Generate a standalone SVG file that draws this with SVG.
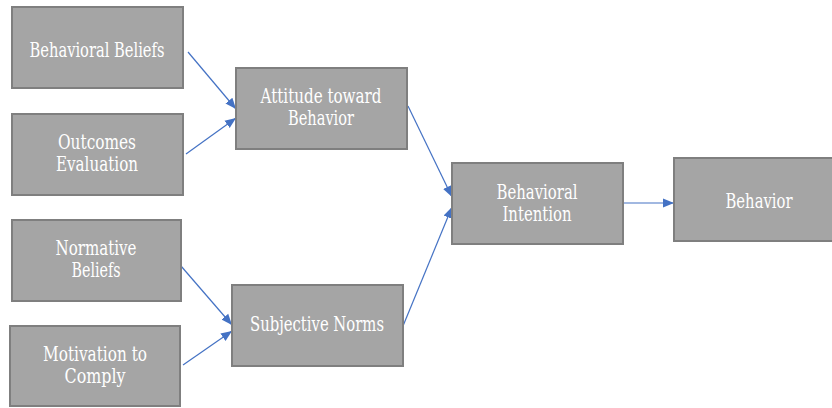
<svg xmlns="http://www.w3.org/2000/svg" width="832" height="408" viewBox="0 0 832 408">
  <style>
    .box { fill: #a5a5a5; stroke: #7f7f7f; stroke-width: 2; }
    .lbl { fill: #ffffff; font-family: "DejaVu Serif Condensed", "DejaVu Serif", "Liberation Serif", serif; font-size: 21px; text-anchor: middle; }
    .edge { fill: none; stroke: #4472c4; stroke-width: 1.2; marker-end: url(#arrow); }
  </style>
  <defs>
    <marker id="arrow" markerUnits="userSpaceOnUse" markerWidth="12" markerHeight="12" viewBox="0 0 12 12" refX="11" refY="6" orient="auto">
      <path d="M0,1.5 L11,6 L0,10.5 Z" fill="#4472c4"/>
    </marker>
  </defs>

  <g id="connectors">
    <line class="edge" x1="188" y1="52" x2="236" y2="109"/>
    <line class="edge" x1="186" y1="154" x2="236" y2="118"/>
    <line class="edge" x1="408" y1="106" x2="452" y2="197"/>
    <line class="edge" x1="403" y1="326" x2="452" y2="207"/>
    <line class="edge" x1="181" y1="266" x2="232" y2="325"/>
    <line class="edge" x1="183" y1="365" x2="232" y2="331"/>
    <line class="edge" x1="624" y1="203" x2="674" y2="203"/>
  </g>

  <!-- narrow serif labels, squeezed to fit the boxes -->
  <g id="behavioral-beliefs">
    <rect class="box" x="12" y="7" width="171" height="81"/>
    <text class="lbl" x="97" y="57" textLength="135" lengthAdjust="spacingAndGlyphs">Behavioral Beliefs</text>
  </g>
  <g id="outcomes-evaluation">
    <rect class="box" x="12" y="114" width="171" height="81"/>
    <text class="lbl" x="97" y="149" textLength="78" lengthAdjust="spacingAndGlyphs">Outcomes</text>
    <text class="lbl" x="97" y="171" textLength="82" lengthAdjust="spacingAndGlyphs">Evaluation</text>
  </g>
  <g id="attitude">
    <rect class="box" x="236" y="68" width="171" height="81"/>
    <text class="lbl" x="321" y="103" textLength="121" lengthAdjust="spacingAndGlyphs">Attitude toward</text>
    <text class="lbl" x="321" y="125" textLength="66" lengthAdjust="spacingAndGlyphs">Behavior</text>
  </g>
  <g id="normative-beliefs">
    <rect class="box" x="12" y="220" width="169" height="81"/>
    <text class="lbl" x="96" y="255" textLength="81" lengthAdjust="spacingAndGlyphs">Normative</text>
    <text class="lbl" x="96" y="277" textLength="49" lengthAdjust="spacingAndGlyphs">Beliefs</text>
  </g>
  <g id="motivation">
    <rect class="box" x="10" y="326" width="170" height="80"/>
    <text class="lbl" x="95" y="361" textLength="104" lengthAdjust="spacingAndGlyphs">Motivation to</text>
    <text class="lbl" x="95" y="383" textLength="61" lengthAdjust="spacingAndGlyphs">Comply</text>
  </g>
  <g id="subjective-norms">
    <rect class="box" x="232" y="285" width="171" height="81"/>
    <text class="lbl" x="317" y="331" textLength="134" lengthAdjust="spacingAndGlyphs">Subjective Norms</text>
  </g>
  <g id="behavioral-intention">
    <rect class="box" x="452" y="163" width="171" height="81"/>
    <text class="lbl" x="537" y="199" textLength="81" lengthAdjust="spacingAndGlyphs">Behavioral</text>
    <text class="lbl" x="537" y="221" textLength="69" lengthAdjust="spacingAndGlyphs">Intention</text>
  </g>
  <g id="behavior">
    <rect class="box" x="674" y="158" width="171" height="83"/>
    <text class="lbl" x="759" y="208" textLength="67" lengthAdjust="spacingAndGlyphs">Behavior</text>
  </g>
</svg>
